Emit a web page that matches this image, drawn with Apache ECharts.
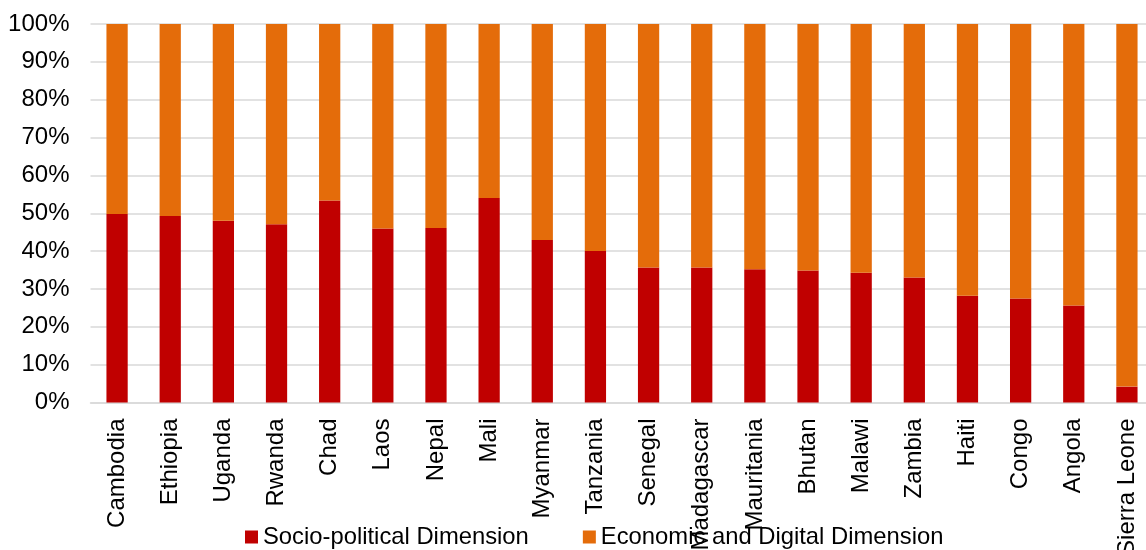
<!DOCTYPE html>
<html>
<head>
<meta charset="utf-8">
<script src="https://cdn.jsdelivr.net/npm/echarts@6/dist/echarts.min.js"></script>
<style>
html,body{margin:0;padding:0;background:#fff;}
#c{width:1146px;height:550px;}
</style>
</head>
<body>
<div id="c"></div>
<script>
const categories = ["Cambodia","Ethiopia","Uganda","Rwanda","Chad","Laos","Nepal","Mali","Myanmar","Tanzania","Senegal","Madagascar","Mauritania","Bhutan","Malawi","Zambia","Haiti","Congo","Angola","Sierra Leone"];
const socioPolitical = [49.8,49.3,48.0,47.1,53.4,46.0,46.1,54.0,42.9,40.0,35.7,35.7,35.2,34.9,34.3,33.0,28.2,27.5,25.6,4.2];
const economicDigital = [50.2,50.7,52.0,52.9,46.6,54.0,53.9,46.0,57.1,60.0,64.3,64.3,64.8,65.1,65.7,67.0,71.8,72.5,74.4,95.8];
const seriesNames = ["Socio-political Dimension","Economic and Digital Dimension"];
const seriesColors = ["#C00000","#E46C0A"];

const font = "'Liberation Sans', Arial, sans-serif";
const chart = echarts.init(document.getElementById('c'), null, {renderer:'canvas'});
chart.setOption({
  animation:false,
  backgroundColor:'#fff',
  grid:{left:90.5, width:1063, top:24, bottom:147.5, containLabel:false, outerBoundsMode:'none'},
  legend:{
    left:245, top:525, padding:0,
    itemWidth:13, itemHeight:13, itemGap:54,
    icon:'rect',
    textStyle:{fontFamily:font, fontSize:23.8, color:'#000'},
    data:seriesNames
  },
  xAxis:{
    type:'category',
    data:categories,
    axisLine:{show:true, lineStyle:{color:'#d9d9d9', width:1.5}},
    axisTick:{show:false},
    axisLabel:{rotate:90, interval:0, margin:16, fontFamily:font, fontSize:24, color:'#000'}
  },
  yAxis:{
    type:'value', min:0, max:100, interval:10,
    axisLine:{show:false}, axisTick:{show:false},
    splitLine:{lineStyle:{color:'#d9d9d9', width:1.5}},
    axisLabel:{formatter:'{value}%', margin:21, fontFamily:font, fontSize:24, color:'#000'}
  },
  series:[
    {name:seriesNames[0], type:'bar', stack:'s', data:socioPolitical, barWidth:'40%', itemStyle:{color:seriesColors[0]}},
    {name:seriesNames[1], type:'bar', stack:'s', data:economicDigital, barWidth:'40%', itemStyle:{color:seriesColors[1]}}
  ]
});
</script>
</body>
</html>
